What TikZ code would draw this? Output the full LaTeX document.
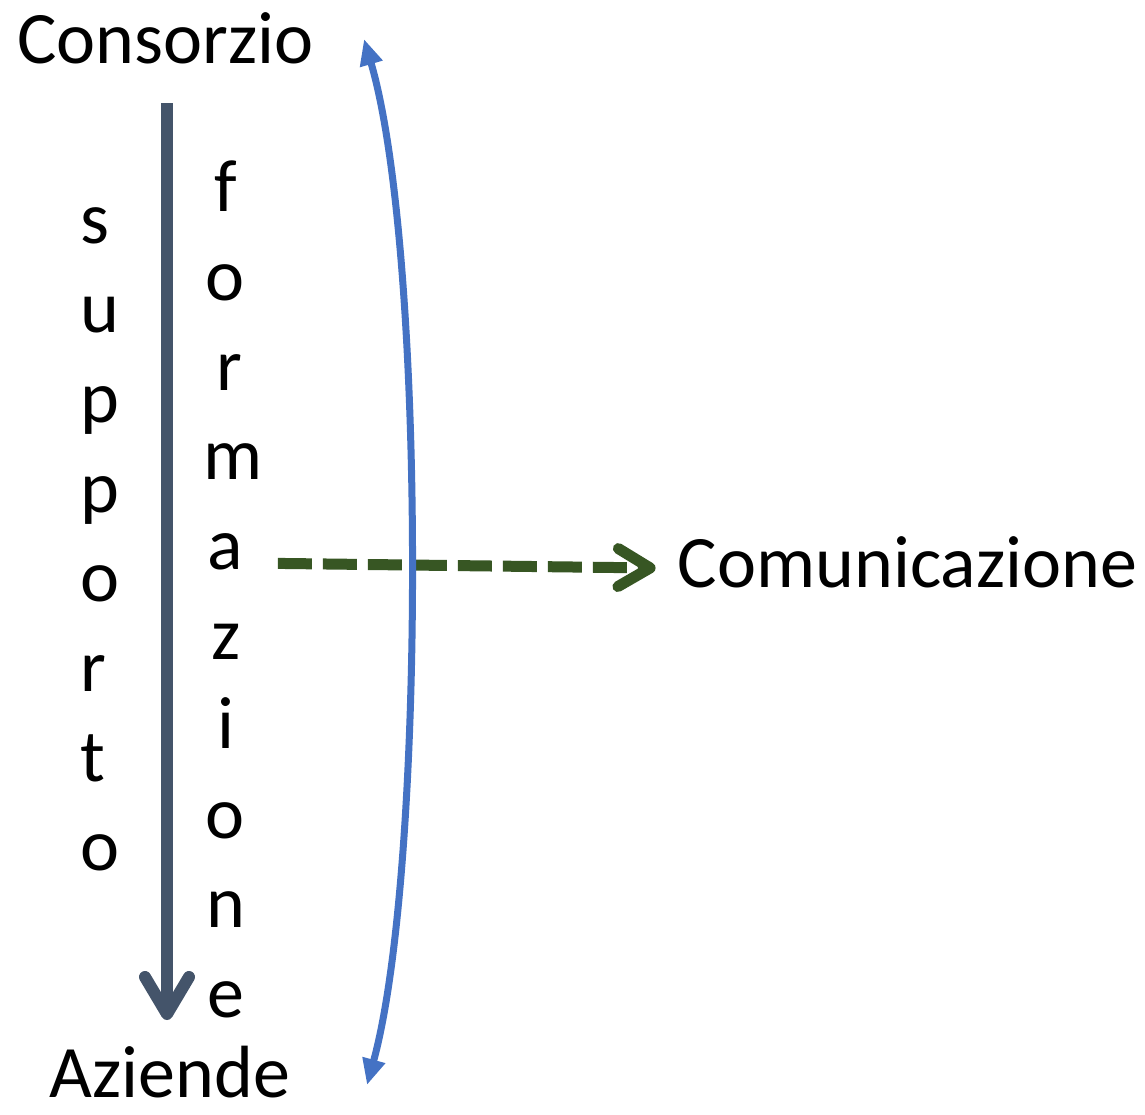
\documentclass[tikz,border=0pt]{standalone}
\usepackage{fontspec}
\setmainfont{Carlito}
\usetikzlibrary{arrows.meta,calc}
\definecolor{slate}{HTML}{44546A}
\definecolor{oblue}{HTML}{4472C4}
\definecolor{dgreen}{HTML}{375623}
\begin{document}
\begin{tikzpicture}[x=1pt,y=-1pt,
  lbl/.style={font=\fontsize{74}{89}\selectfont, inner sep=0pt, anchor=base},
  flow/.style={line width=12pt, draw=slate, -{Straight Barb[length=37pt,width=44pt,round]}},
  link/.style={line width=7pt, draw=oblue, {Triangle[length=26pt,width=22pt]}-{Triangle[length=26pt,width=22pt]}},
  comm/.style={line width=11pt, draw=dgreen, dash pattern=on 34pt off 11pt, -{Straight Barb[length=32pt,width=38pt,round]}}]
\useasboundingbox[fill=white] (0,0) rectangle (1145,1114);
\node[lbl] (consorzio) at (165.5,63) {Consorzio};
\node[lbl] (aziende) at (170,1097) {Aziende};
\node[lbl] (comunicazione) at (907.5,587) {Comunicazione};
\foreach \c [count=\i] in {s,u,p,p,o,r,t,o}
  \node[lbl,anchor=base west] (s\i) at (80,{243+(\i-1)*89.7}) {\c};
\foreach \c/\x [count=\i] in {f/226,o/225.5,r/229,m/233.5,a/225,z/226,i/226,o/225.5,n/226,e/225.5}
  \node[lbl] (f\i) at (\x,{211+(\i-1)*89.6}) {\c};
\coordinate (flowtop) at ($(consorzio.base)+(1.5,40)$);
\coordinate (flowend) at ($(aziende.base)+(-3,-77)$);
\draw[flow] (flowtop) -- (flowend);
\coordinate (commstart) at ($(f5.base east)+(35,-6)$);
\coordinate (commend) at ($(comunicazione.base west)+(-22,-19)$);
\draw[comm] (commstart) -- (commend);
\coordinate (linktop) at (364,39);
\coordinate (linkbot) at (367,1085);
\draw[link] (linktop) .. controls (426,250) and (426,870) .. (linkbot);
\end{tikzpicture}
\end{document}
